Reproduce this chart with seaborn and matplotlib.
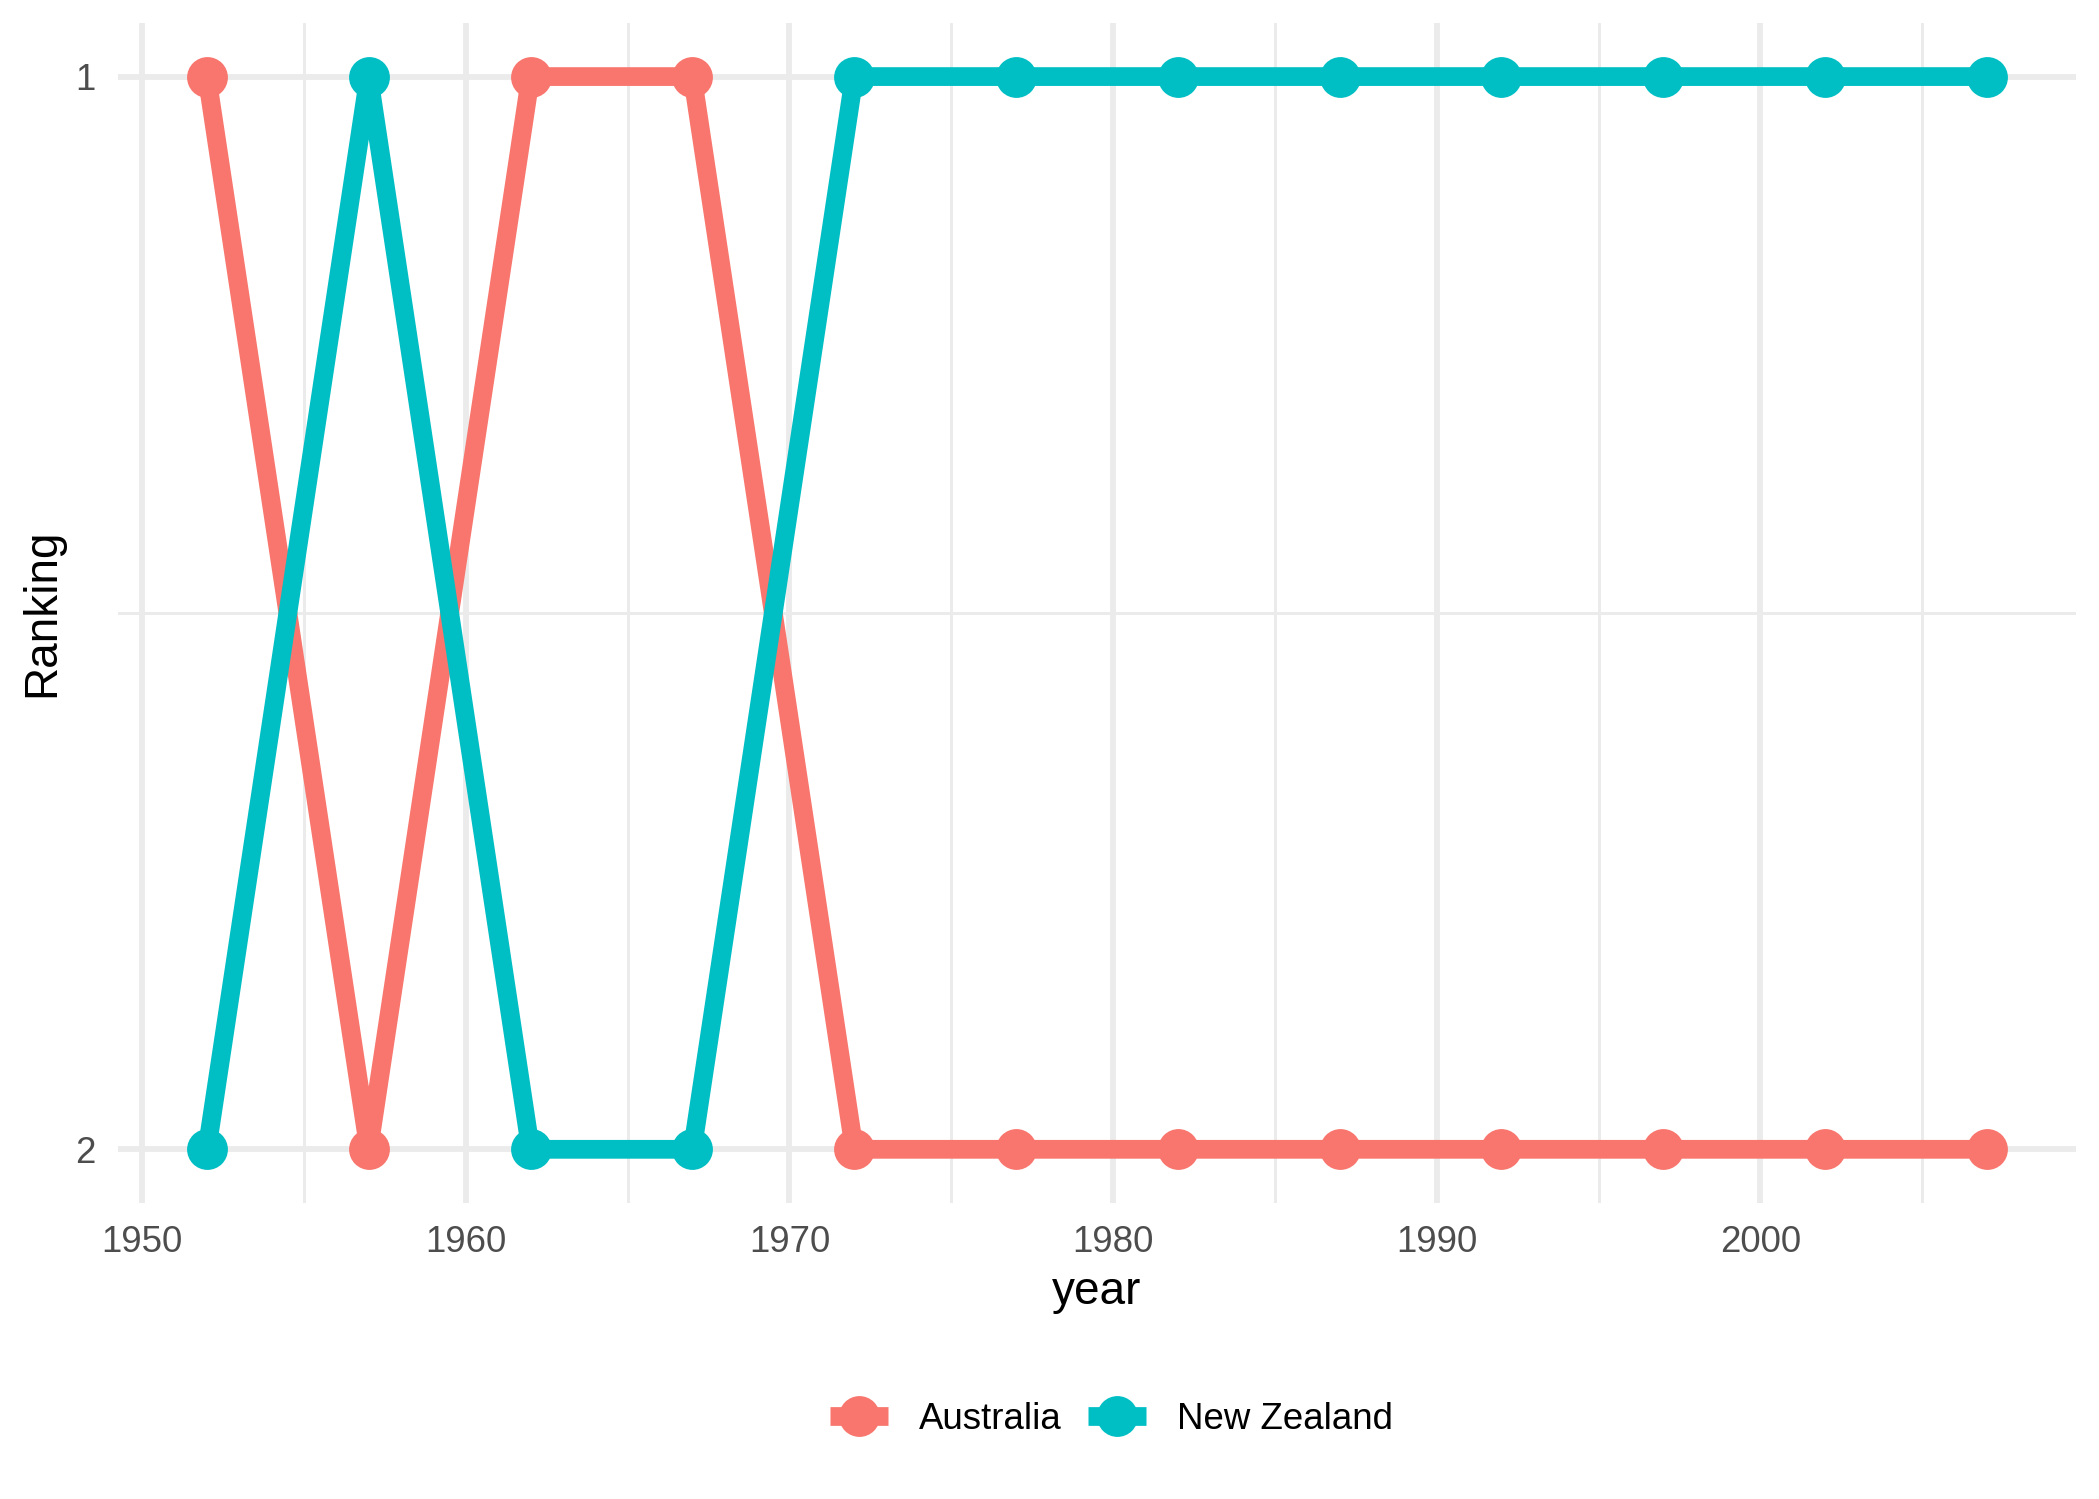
import numpy as np
import pandas as pd
import matplotlib
matplotlib.use("Agg")
import matplotlib.pyplot as plt
from matplotlib.lines import Line2D
from matplotlib.ticker import FixedLocator
import seaborn as sns

years = [1952, 1957, 1962, 1967, 1972, 1977, 1982, 1987, 1992, 1997, 2002, 2007]
australia_rank = [1, 2, 1, 1, 2, 2, 2, 2, 2, 2, 2, 2]
new_zealand_rank = [2, 1, 2, 2, 1, 1, 1, 1, 1, 1, 1, 1]
countries = ["Australia", "New Zealand"]
colors = ["#F8766D", "#00BFC4"]
x_ticks = [1950, 1960, 1970, 1980, 1990, 2000]
y_ticks = [1, 2]

df = pd.DataFrame({
    "year": years * 2,
    "rank": australia_rank + new_zealand_rank,
    "country": [countries[0]] * len(years) + [countries[1]] * len(years),
})

sns.set_theme(style="white")
plt.rcParams["font.family"] = ["Liberation Sans", "DejaVu Sans"]

fig, ax = plt.subplots(figsize=(2099 / 300, 1499 / 300), dpi=300)
fig.subplots_adjust(left=0.0562, right=0.989, top=0.9847, bottom=0.1975)

palette = dict(zip(countries, colors))
sns.lineplot(data=df, x="year", y="rank", hue="country", palette=palette,
             hue_order=countries, marker="o", markersize=9.8, markeredgewidth=0,
             linewidth=4.5, legend=False, ax=ax, zorder=3)
for ln in ax.get_lines():
    ln.set_solid_capstyle("butt")

ax.set_xlim(1949.25, 2009.75)
ax.set_ylim(2.05, 0.95)
ax.xaxis.set_major_locator(FixedLocator(x_ticks))
ax.xaxis.set_minor_locator(FixedLocator([1955, 1965, 1975, 1985, 1995, 2005]))
ax.yaxis.set_major_locator(FixedLocator(y_ticks))
ax.yaxis.set_minor_locator(FixedLocator([1.5]))
ax.set_xticklabels([str(v) for v in x_ticks])
ax.set_yticklabels([str(v) for v in y_ticks])

ax.grid(which="major", color="#EBEBEB", linewidth=1.4)
ax.grid(which="minor", color="#EBEBEB", linewidth=0.7)
ax.set_axisbelow(True)
for s in ax.spines.values():
    s.set_visible(False)
ax.tick_params(which="both", length=0)
ax.tick_params(axis="x", pad=5.2, labelsize=8.8, labelcolor="#4D4D4D")
ax.tick_params(axis="y", pad=5.5, labelsize=8.8, labelcolor="#4D4D4D")

ax.set_xlabel("year", fontsize=11, color="black", labelpad=2.6)
ax.set_ylabel("Ranking", fontsize=11, color="black", labelpad=2.4)

handles = [Line2D([], [], color=c, lw=4.5, marker="o", markersize=9.8,
                  markeredgewidth=0, solid_capstyle="butt") for c in colors]
fig.legend(handles, countries, loc="center left", bbox_to_anchor=(830 / 2099, 0.053),
           ncol=2, frameon=False, fontsize=8.8, handlelength=1.58,
           handletextpad=0.85, columnspacing=0.72, borderpad=0, borderaxespad=0,
           labelcolor="black")

fig.savefig("out.png", dpi=300, facecolor="white")
